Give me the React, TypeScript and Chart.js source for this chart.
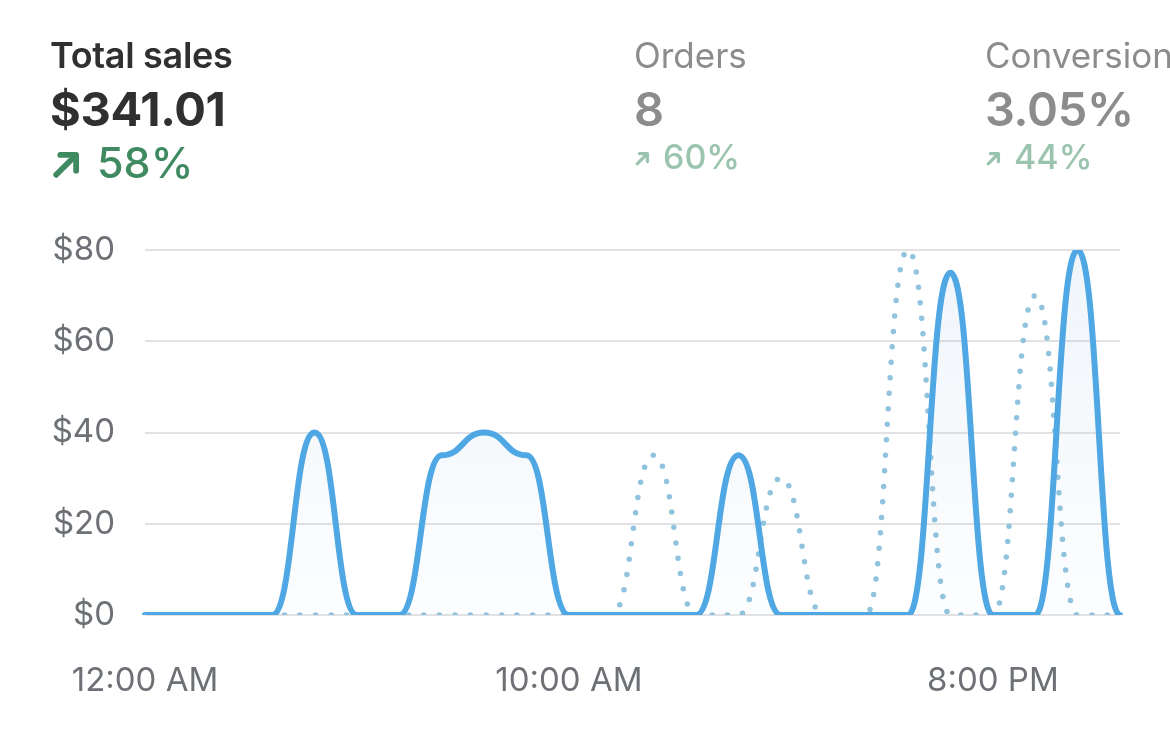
import React, { useEffect, useRef } from "react";
import { Chart, registerables } from "chart.js";

Chart.register(...registerables);

const hourLabels = [
  "12:00 AM", "1:00 AM", "2:00 AM", "3:00 AM", "4:00 AM", "5:00 AM",
  "6:00 AM", "7:00 AM", "8:00 AM", "9:00 AM", "10:00 AM", "11:00 AM",
  "12:00 PM", "1:00 PM", "2:00 PM", "3:00 PM", "4:00 PM", "5:00 PM",
  "6:00 PM", "7:00 PM", "8:00 PM", "9:00 PM", "10:00 PM", "11:00 PM",
];
const shownTickIndexes = [0, 10, 20];

const currentSales = [0, 0, 0, 0, 40, 0, 0, 35, 40, 35, 0, 0, 0, 0, 35, 0, 0, 0, 0, 75, 0, 0, 80, 0];
const previousSales = [0, 0, 0, 0, 0, 0, 0, 0, 0, 0, 0, 0, 35, 0, 0, 30, 0, 0, 80, 0, 0, 70, 0, 0];

const yTicks = [0, 20, 40, 60, 80];

const FONT = "Inter, 'Noto Sans', sans-serif";

// Horizontal-tangent ("bump") curve: control points level with each point.
const bumpCurvePlugin = {
  id: "bumpCurve",
  afterDatasetsUpdate(chart: any) {
    chart.getSortedVisibleDatasetMetas().forEach((meta: any) => {
      const pts = meta.data;
      for (let i = 0; i < pts.length; i++) {
        const p = pts[i];
        const prev = pts[i - 1];
        const next = pts[i + 1];
        p.cp1x = prev ? (p.x + prev.x) / 2 : p.x;
        p.cp1y = p.y;
        p.cp2x = next ? (p.x + next.x) / 2 : p.x;
        p.cp2y = p.y;
      }
      if (meta.dataset) meta.dataset._pointsUpdated = true;
    });
  },
};

function Arrow({ size, color, stroke }: { size: number; color: string; stroke: number }) {
  return (
    <svg width={size} height={size} viewBox="0 0 24 24" style={{ display: "block" }}>
      <path d="M4.5 19.5 L18 6" stroke={color} strokeWidth={stroke} strokeLinecap="round" fill="none" />
      <path d="M7.5 5 L19 5 L19 16.5" stroke={color} strokeWidth={stroke} strokeLinecap="round" strokeLinejoin="round" fill="none" />
    </svg>
  );
}

function Metric(props: {
  left: number; title: string; value: string; change: string;
  dim: boolean;
}) {
  const titleColor = props.dim ? "#8c8c8c" : "#303030";
  const valueColor = props.dim ? "#8c8c8c" : "#303030";
  const green = props.dim ? "#9ac4ad" : "#3f8a60";
  return (
    <div style={{ position: "absolute", left: props.left, top: 0, whiteSpace: "nowrap", fontFamily: FONT }}>
      <div style={{ position: "absolute", top: props.dim ? 38 : 37, fontSize: props.dim ? 35 : 36, fontWeight: props.dim ? 400 : 600, lineHeight: 1, color: titleColor, letterSpacing: props.dim ? 0 : -0.3 }}>
        {props.title}
      </div>
      <div style={{ position: "absolute", top: 85, fontSize: 47, fontWeight: props.dim ? 600 : 700, lineHeight: 1, color: valueColor, letterSpacing: -0.3 }}>
        {props.value}
      </div>
      <div style={{ position: "absolute", top: props.dim ? 140 : 141, display: "flex", alignItems: "center", lineHeight: 1, color: green, fontWeight: 500, fontSize: props.dim ? 34 : 43 }}>
        {props.dim ? (
          <span style={{ marginRight: 12, marginTop: 2 }}><Arrow size={17} color={green} stroke={4.5} /></span>
        ) : (
          <span style={{ marginRight: 14, marginTop: 3 }}><Arrow size={33} color={green} stroke={4.2} /></span>
        )}
        <span>{props.change}</span>
      </div>
    </div>
  );
}

export default function App() {
  const canvasRef = useRef<HTMLCanvasElement | null>(null);

  useEffect(() => {
    const canvas = canvasRef.current;
    if (!canvas) return;
    const ctx = canvas.getContext("2d")!;
    const grad = ctx.createLinearGradient(0, 250, 0, 615);
    grad.addColorStop(0, "rgba(110,160,210,0.10)");
    grad.addColorStop(1, "rgba(110,160,210,0.02)");

    const chart = new Chart(canvas, {
      type: "line",
      data: {
        labels: hourLabels,
        datasets: [
          {
            label: "Total sales",
            data: currentSales,
            borderColor: "#4fa7e3",
            borderWidth: 6,
            pointRadius: 0,
            cubicInterpolationMode: "monotone",
            fill: "origin",
            backgroundColor: grad,
            borderCapStyle: "round",
            borderJoinStyle: "round",
          },
          {
            label: "Previous period",
            data: previousSales,
            borderColor: "#90c3dd",
            borderWidth: 5.5,
            borderDash: [0, 15.5],
            borderCapStyle: "round",
            pointRadius: 0,
            cubicInterpolationMode: "monotone",
            fill: false,
          },
        ],
      },
      plugins: [bumpCurvePlugin],
      options: {
        responsive: false,
        animation: false,
        devicePixelRatio: 1,
        layout: { padding: { top: 250, right: 50, left: 0, bottom: 0 } },
        plugins: { legend: { display: false }, tooltip: { enabled: false } },
        scales: {
          x: {
            grid: { display: false, drawTicks: false },
            border: { display: false },
            ticks: {
              autoSkip: false,
              maxRotation: 0,
              minRotation: 0,
              padding: 46,
              color: "#6d7175",
              font: { family: FONT, size: 33 },
              callback: (_v: any, i: number) => (shownTickIndexes.includes(i) ? hourLabels[i] : ""),
            },
            afterFit: (scale: any) => { scale.height = 121; },
          },
          y: {
            min: yTicks[0],
            max: yTicks[yTicks.length - 1],
            afterBuildTicks: (scale: any) => { scale.ticks = yTicks.map((v) => ({ value: v })); },
            grid: { color: "#e2e2e4", lineWidth: 2, drawTicks: false },
            border: { display: false },
            ticks: {
              padding: 30,
              color: "#6d7175",
              font: { family: FONT, size: 33 },
              callback: (v: any) => "$" + v,
            },
            afterFit: (scale: any) => { scale.width = 145; },
          },
        },
      },
    });
    return () => chart.destroy();
  }, []);

  return (
    <div style={{ position: "fixed", left: 0, top: 0, width: 1170, height: 736, overflow: "hidden", background: "#fff" }}>
      <canvas ref={canvasRef} width={1170} height={736} style={{ position: "absolute", left: 0, top: 0, width: 1170, height: 736 }} />
      <Metric left={50} title="Total sales" value="$341.01" change="58%" dim={false} />
      <Metric left={634} title="Orders" value="8" change="60%" dim={true} />
      <Metric left={985} title="Conversion rate" value="3.05%" change="44%" dim={true} />
    </div>
  );
}
